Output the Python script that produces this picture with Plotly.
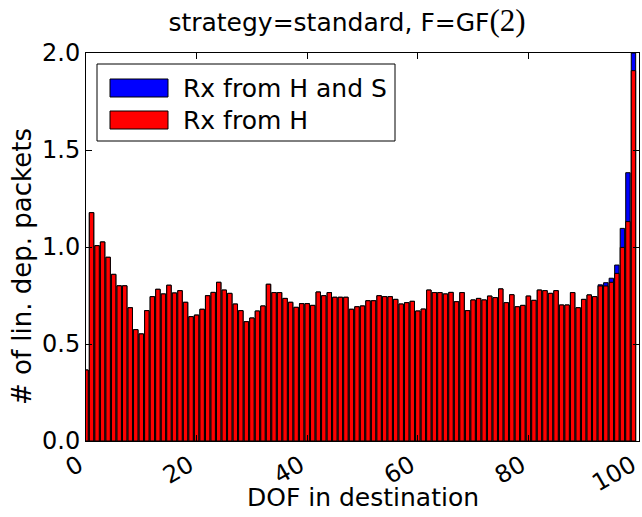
import plotly.graph_objects as go

# Degrees of freedom already held by the destination (bar positions)
dof = list(range(100))

# Mean number of linearly dependent packets, received from H only
rx_from_h = [
    0.366, 1.177, 1.007, 1.026, 0.947, 0.859, 0.800, 0.800, 0.687, 0.574,
    0.552, 0.672, 0.744, 0.782, 0.758, 0.803, 0.763, 0.775, 0.715, 0.641,
    0.649, 0.679, 0.749, 0.766, 0.818, 0.778, 0.761, 0.706, 0.672, 0.615,
    0.634, 0.670, 0.696, 0.808, 0.765, 0.765, 0.735, 0.715, 0.689, 0.708,
    0.708, 0.699, 0.768, 0.749, 0.765, 0.741, 0.741, 0.741, 0.679, 0.692,
    0.696, 0.723, 0.723, 0.749, 0.744, 0.744, 0.730, 0.706, 0.713, 0.720,
    0.670, 0.680, 0.778, 0.765, 0.765, 0.758, 0.766, 0.718, 0.765, 0.672,
    0.727, 0.735, 0.727, 0.747, 0.739, 0.784, 0.713, 0.754, 0.692, 0.699,
    0.747, 0.725, 0.778, 0.775, 0.761, 0.775, 0.701, 0.701, 0.765, 0.687,
    0.730, 0.753, 0.744, 0.799, 0.799, 0.818, 0.864, 0.998, 1.131, 1.909,
]

# Mean number of linearly dependent packets, received from H and S
rx_from_h_and_s = [
    0.366, 1.177, 1.007, 1.026, 0.947, 0.859, 0.800, 0.800, 0.687, 0.574,
    0.552, 0.672, 0.744, 0.782, 0.758, 0.803, 0.763, 0.775, 0.715, 0.641,
    0.649, 0.679, 0.749, 0.766, 0.818, 0.778, 0.761, 0.706, 0.672, 0.615,
    0.634, 0.670, 0.696, 0.808, 0.765, 0.765, 0.735, 0.715, 0.689, 0.708,
    0.708, 0.699, 0.768, 0.749, 0.765, 0.741, 0.741, 0.741, 0.679, 0.692,
    0.696, 0.723, 0.723, 0.749, 0.744, 0.744, 0.730, 0.706, 0.713, 0.720,
    0.670, 0.680, 0.778, 0.765, 0.765, 0.758, 0.766, 0.718, 0.765, 0.672,
    0.727, 0.735, 0.727, 0.747, 0.739, 0.784, 0.713, 0.754, 0.692, 0.699,
    0.747, 0.725, 0.778, 0.775, 0.761, 0.775, 0.701, 0.701, 0.765, 0.687,
    0.730, 0.753, 0.744, 0.805, 0.816, 0.839, 0.907, 1.096, 1.383, 2.000,
]

x_ticks = [0, 20, 40, 60, 80, 100]
y_ticks = [0.0, 0.5, 1.0, 1.5, 2.0]

series_names = ["Rx from H and S", "Rx from H"]
series_colors = ["#0000ff", "#ff0000"]

W, H = 642, 517
L, R, T, B = 86, 3, 53, 76
FONT = "DejaVu Sans"

fig = go.Figure()
for name, vals, col in zip(series_names, [rx_from_h_and_s, rx_from_h], series_colors):
    fig.add_trace(go.Bar(
        x=dof, y=vals, name=name, width=0.8,
        marker=dict(color=col, line=dict(color="black", width=1)),
        showlegend=False,
    ))

# pixel -> paper helpers for the hand-drawn legend and the axis titles
pw, ph = W - L - R, H - T - B
def px(x):
    return (x - L) / pw
def py(y):
    return (H - B - y) / ph

shapes = [dict(type="rect", xref="paper", yref="paper",
               x0=px(97), x1=px(395), y0=py(141), y1=py(64),
               line=dict(color="black", width=1), fillcolor="white", layer="above")]
annotations = []
for i, (name, col) in enumerate(zip(series_names, series_colors)):
    top = 79 + i * 32
    shapes.append(dict(type="rect", xref="paper", yref="paper",
                       x0=px(110), x1=px(168), y0=py(top + 18), y1=py(top),
                       line=dict(color="black", width=1), fillcolor=col, layer="above"))
    annotations.append(dict(xref="paper", yref="paper", x=px(181), y=py(top + 9),
                            text=name, showarrow=False, xanchor="left", yanchor="middle",
                            font=dict(family=FONT, size=25, color="black")))

# axis titles
annotations.append(dict(xref="paper", yref="paper", x=px(363), y=py(497),
                        text="DOF in destination", showarrow=False,
                        xanchor="center", yanchor="middle",
                        font=dict(family=FONT, size=25, color="black")))
annotations.append(dict(xref="paper", yref="paper", x=px(22), y=py(267),
                        text="# of lin. dep. packets", showarrow=False, textangle=-90,
                        xanchor="center", yanchor="middle",
                        font=dict(family=FONT, size=26, color="black")))

fig.update_layout(
    width=W, height=H,
    margin=dict(l=L, r=R, t=T, b=B),
    paper_bgcolor="white", plot_bgcolor="white",
    barmode="overlay",
    font=dict(family=FONT, color="black"),
    title=dict(
        text="strategy=standard, F=GF<span style='font-family:Liberation Serif;font-size:31px'>(2)</span>",
        font=dict(family=FONT, size=25, color="black"),
        x=px(347), xref="paper", xanchor="center",
        y=1 - 22 / H, yref="container", yanchor="middle",
    ),
    shapes=shapes,
    annotations=annotations,
)

fig.update_xaxes(
    range=[-0.001, 100.001], tickvals=x_ticks, ticktext=[str(v) for v in x_ticks],
    tickangle=-30, ticks="inside", ticklen=6, tickcolor="black",
    ticklabeloverflow="allow", ticklabelshift=-7,
    showline=True, linecolor="black", linewidth=1, mirror="ticks",
    showgrid=False, zeroline=False, automargin=False,
    tickfont=dict(family=FONT, size=24, color="black"),
)
fig.update_yaxes(
    range=[0, 2.0], tickvals=y_ticks, tickformat=".1f",
    ticks="inside", ticklen=6, tickcolor="black",
    showline=True, linecolor="black", linewidth=1, mirror="ticks",
    showgrid=False, zeroline=False, automargin=False,
    tickfont=dict(family=FONT, size=24, color="black"),
)

fig.write_html("out.html")
